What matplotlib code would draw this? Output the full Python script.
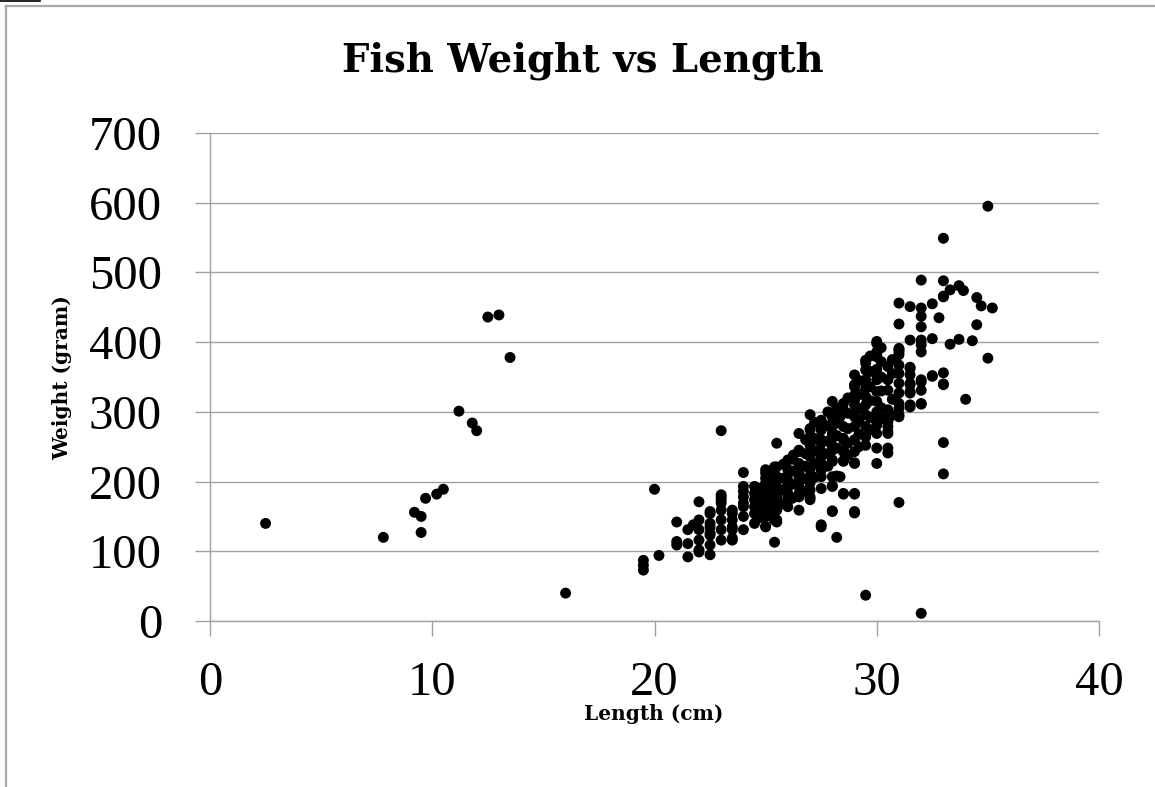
import matplotlib
matplotlib.use("Agg")
import matplotlib.pyplot as plt
from matplotlib.lines import Line2D

# Fish length (cm) / weight (g)
lengths = []
weights = []

def add(x, ys):
    for y in ys:
        lengths.append(x)
        weights.append(y)

# stray points, small fish
add(2.5, [140]); add(7.8, [120]); add(9.2, [156]); add(9.5, [150, 127])
add(9.7, [176]); add(10.2, [182]); add(10.5, [189]); add(11.2, [301])
add(11.8, [284]); add(12.0, [273]); add(12.5, [436]); add(13.0, [439])
add(13.5, [378]); add(16.0, [40])

# main cluster
add(19.5, [73, 80, 87])
add(20.0, [189])
add(20.2, [94])
add(21.0, [142, 114, 109])
add(21.5, [131, 111, 92])
add(21.75, [138])
add(22.0, [171, 145, 131, 116, 102, 99])
add(22.5, [157, 154, 140, 135, 126, 123, 109, 95])
add(23.0, [273, 181, 178, 174, 169, 159, 145, 131, 116])
add(23.5, [159, 154, 145, 135, 131, 119, 116])
add(24.0, [213, 193, 186, 178, 169, 164, 150, 131])
add(24.5, [193, 183, 174, 164, 154, 140])
add(25.0, [217, 212, 205, 198, 193, 183, 178, 169, 164, 159, 154, 150, 136, 135])
add(25.4, [221, 202, 183, 164, 145, 113])
add(25.5, [255, 221, 207, 193, 178, 174, 159, 145, 142])
add(26.0, [231, 217, 202, 198, 183, 178, 164])
add(26.25, [238])
add(26.5, [269, 245, 243, 226, 221, 212, 207, 198, 193, 183, 178, 159])
add(27.0, [296, 276, 274, 264, 255, 252, 236, 217, 202, 198, 188, 178, 174])
add(27.5, [288, 279, 274, 260, 255, 243, 236, 226, 217, 207, 190, 138, 135])
add(28.0, [315, 298, 293, 279, 269, 262, 250, 245, 231, 229, 207, 194, 193, 158, 157])
add(28.2, [208, 120])
add(28.35, [293, 207])
add(28.5, [312, 303, 279, 262, 260, 245, 243, 230, 229, 183, 182])
add(29.0, [353, 339, 336, 324, 317, 310, 298, 293, 279, 260, 243, 227, 226, 183, 182, 157, 155])
add(29.5, [374, 370, 360, 346, 334, 322, 310, 296, 279, 264, 252, 37])
add(30.0, [401, 398, 386, 385, 382, 379, 361, 353, 346, 329, 315, 300, 286, 281, 269, 248, 226])
add(30.5, [365, 346, 331, 303, 298, 286, 279, 272, 269, 248, 241])
add(31.0, [456, 426, 391, 389, 386, 382, 367, 355, 341, 327, 312, 305, 296, 293, 170])
add(31.5, [451, 403, 364, 362, 353, 341, 339, 329, 327, 310, 307])
add(32.0, [489, 449, 437, 422, 403, 396, 386, 346, 343, 331, 312, 311, 11])
add(32.5, [455, 405, 352, 351])
add(32.8, [435])
add(33.0, [549, 488, 466, 465, 356, 340, 339, 256, 211])
add(33.3, [475, 397])
add(33.7, [481, 404])
add(33.9, [474])
add(34.0, [318])
add(34.3, [402])
add(34.5, [464, 425])
add(34.7, [452])
add(35.0, [595, 377])
add(35.2, [449])

# in-between lengths that fill out the dense band
add(24.7, [190, 175, 160, 148])
add(25.2, [215, 196, 172, 152])
add(25.8, [225, 205, 188, 168])
add(26.2, [232, 215, 196, 176])
add(26.8, [260, 240, 222, 204, 186])
add(27.2, [285, 262, 244, 226, 206])
add(27.8, [300, 280, 258, 240, 222])
add(28.2, [305, 284, 266, 248])
add(28.7, [320, 298, 276, 255, 238])
add(29.2, [345, 325, 305, 288, 268, 250])
add(29.7, [380, 358, 336, 316, 292, 274])
add(30.2, [392, 372, 350, 330, 306, 290])
add(30.7, [375, 355, 318, 295])

x_ticks = [0, 10, 20, 30, 40]
y_ticks = [0, 100, 200, 300, 400, 500, 600, 700]

fig = plt.figure(figsize=(11.55, 7.87), dpi=100)
ax = fig.add_axes([210 / 1155, 1 - 621 / 787, 889 / 1155, 488 / 787])

ax.scatter(lengths, weights, s=62, c='black', edgecolors='none', zorder=3, clip_on=False)

ax.set_xlim(0, 40)
ax.set_ylim(0, 700)
ax.set_xticks(x_ticks)
ax.set_yticks(y_ticks)

grid_c = '#a0a0a0'
ax.grid(axis='y', color=grid_c, linewidth=1.0)
ax.set_axisbelow(True)
for side in ['top', 'right']:
    ax.spines[side].set_visible(False)
for side in ['left', 'bottom']:
    ax.spines[side].set_color(grid_c)
    ax.spines[side].set_linewidth(1.0)

ax.tick_params(axis='both', direction='out', color=grid_c, width=1.0, length=10.5)
ax.tick_params(axis='x', pad=18)
ax.tick_params(axis='y', pad=24)
for lbl in ax.get_xticklabels() + ax.get_yticklabels():
    lbl.set_family('Liberation Serif')
    lbl.set_fontsize(35)

# Titles
fig.text(0.5043, 1 - 72 / 787, 'Fish Weight vs Length', ha='center', va='baseline',
         family='DejaVu Serif', weight='bold', fontsize=27.8)
fig.text(654 / 1155, 1 - 714 / 787, 'Length (cm)', ha='center', va='center',
         family='DejaVu Serif', weight='bold', fontsize=14.5)
fig.text(62 / 1155, 1 - 378 / 787, 'Weight (gram)', ha='center', va='center',
         rotation=90, family='DejaVu Serif', weight='bold', fontsize=14.5)

# chart frame at the top-left corner
fig.add_artist(Line2D([6 / 1155, 6 / 1155], [0, 1 - 6 / 787], transform=fig.transFigure,
                      color='#a8a8a8', linewidth=1.6))
fig.add_artist(Line2D([6 / 1155, 1], [1 - 6 / 787, 1 - 6 / 787], transform=fig.transFigure,
                      color='#a8a8a8', linewidth=1.6))
fig.add_artist(Line2D([0, 40 / 1155], [1 - 1 / 787, 1 - 1 / 787], transform=fig.transFigure,
                      color='black', linewidth=1.2))

fig.savefig('out.png', dpi=100)
